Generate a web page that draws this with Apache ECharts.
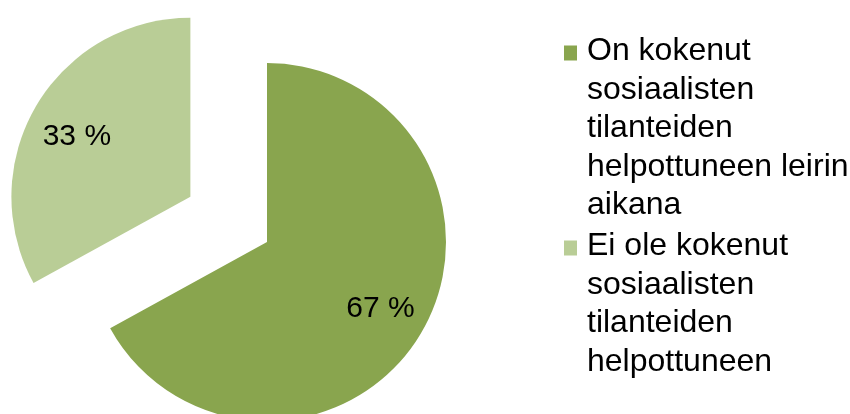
<!DOCTYPE html>
<html>
<head>
<meta charset="utf-8">
<style>
  html, body { margin: 0; padding: 0; background: #ffffff; }
  #chart { width: 850px; height: 414px; }
</style>
<script src="https://cdn.jsdelivr.net/npm/echarts@6/dist/echarts.min.js"></script>
</head>
<body>
<div id="chart"></div>
<script>
// Survey answers: share of campers (%)
const categories = [
  'On kokenut sosiaalisten tilanteiden helpottuneen leirin aikana',
  'Ei ole kokenut sosiaalisten tilanteiden helpottuneen'
];
const values = [67, 33];
const colors = ['#89A54E', '#B9CD96'];
// Wrapped legend text, one array of lines per category
const legendLines = [
  ['On kokenut', 'sosiaalisten', 'tilanteiden', 'helpottuneen leirin', 'aikana'],
  ['Ei ole kokenut', 'sosiaalisten', 'tilanteiden', 'helpottuneen']
];

const LINE_H = 38.5;
const ICON_W = 13;
const ICON_H = 15;
const ICON_TOP = 13.5;

// Tall icon box: square at the first text line, tiny specks pin the box height
function legendIcon(lines) {
  const h = lines * LINE_H;
  return 'path://M0,0h0.01v0.01h-0.01z' +
    'M0,' + ICON_TOP + 'h' + ICON_W + 'v' + ICON_H + 'h-' + ICON_W + 'z' +
    'M0,' + (h - 0.01) + 'h0.01v0.01h-0.01z';
}

const pieData = categories.map((name, i) => ({
  name: name,
  value: values[i],
  selected: i === 1,
  itemStyle: { color: colors[i] }
}));

const center = [267, 242];
const R = 179;
const OFFSET = 89;

const chart = echarts.init(document.getElementById('chart'), null, { renderer: 'canvas' });

const legendTextStyle = {
  fontFamily: 'Liberation Sans, Arial, sans-serif',
  fontSize: 32,
  lineHeight: LINE_H,
  color: '#000000',
  padding: [0, 0, 0, 5]
};

const labelFont = {
  fontFamily: 'Liberation Sans, Arial, sans-serif',
  fontSize: 30,
  lineHeight: 34,
  color: '#000000'
};

chart.setOption({
  animation: false,
  backgroundColor: '#ffffff',
  legend: categories.map((name, i) => ({
    orient: 'vertical',
    left: 564,
    top: i === 0 ? 32 : 227,
    padding: 0,
    itemGap: 0,
    itemWidth: ICON_W,
    itemHeight: legendLines[i].length * LINE_H,
    selectedMode: false,
    icon: legendIcon(legendLines[i].length),
    itemStyle: { borderWidth: 0 },
    data: [name],
    formatter: () => legendLines[i].join('\n'),
    textStyle: legendTextStyle
  })),
  series: [
    {
      name: 'Vastaukset',
      type: 'pie',
      center: center,
      radius: [0, R],
      startAngle: 90,
      clockwise: true,
      selectedMode: 'single',
      selectedOffset: OFFSET,
      avoidLabelOverlap: false,
      itemStyle: { borderWidth: 0 },
      label: { show: false },
      labelLine: { show: false },
      emphasis: { disabled: true },
      data: pieData
    },
    {
      // transparent ring that carries the value labels further out
      name: 'Arvot',
      type: 'pie',
      center: center,
      radius: [R * 0.44, R],
      startAngle: 90,
      clockwise: true,
      selectedMode: 'single',
      selectedOffset: OFFSET,
      avoidLabelOverlap: false,
      silent: true,
      itemStyle: { color: 'rgba(0,0,0,0)', borderWidth: 0 },
      label: Object.assign({
        show: true,
        position: 'inside',
        formatter: '{v|{c} %}',
        rich: { v: labelFont, s: { fontSize: 8, lineHeight: 14 } }
      }, labelFont),
      labelLine: { show: false },
      emphasis: { disabled: true },
      data: categories.map((name, i) => ({
        name: name,
        value: values[i],
        selected: i === 1,
        // the light slice's label sits a little lower in its sector
        label: i === 1 ? { formatter: '{s| }\n{v|{c} %}' } : {}
      }))
    }
  ]
});
</script>
</body>
</html>
